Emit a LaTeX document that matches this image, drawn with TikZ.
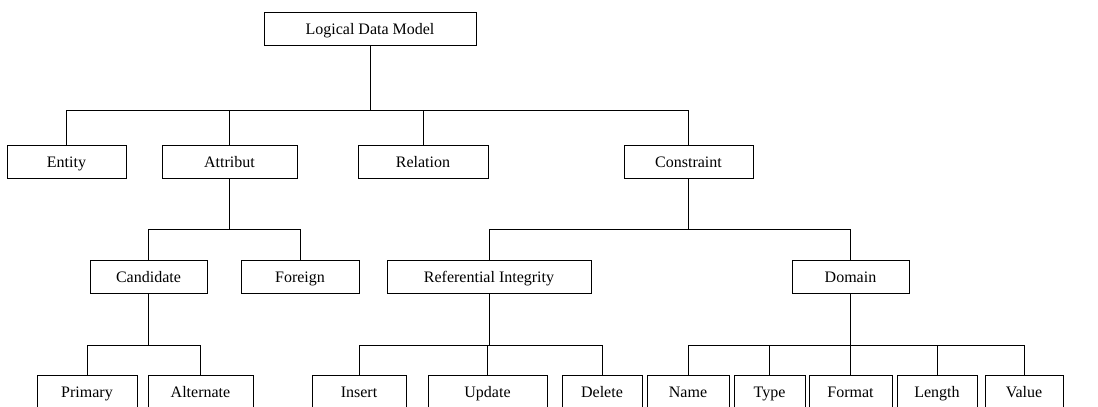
\documentclass[tikz,border=0pt]{standalone}
\usepackage{fontspec}
\setmainfont{Liberation Serif}
\usepackage{tikz}

\begin{document}
\begin{tikzpicture}[x=0.5pt, y=-0.5pt,
    box/.style={draw, rectangle, minimum height=16.5pt, inner sep=0pt,
        text height=1.6ex, text depth=0.4ex,
        font=\fontsize{8}{9}\selectfont},
    link/.style={draw, line width=0.5pt}]
    \useasboundingbox (0,0) rectangle (1098,407);

    % Root node
    \node[box, minimum width=106pt] (ldm) at (370,29) {Logical Data Model};

    % First level
    \node[box, minimum width=59.5pt] (ent) at (66.5,161.5) {Entity};
    \node[box, minimum width=67.5pt] (att) at (229.5,161.5) {Attribut};
    \node[box, minimum width=65pt] (rel) at (423,161.5) {Relation};
    \node[box, minimum width=64.5pt] (con) at (688.5,161.5) {Constraint};

    % Second level
    \node[box, minimum width=58.5pt] (cand) at (148.5,276.5) {Candidate};
    \node[box, minimum width=59pt] (forg) at (300,276.5) {Foreign};
    \node[box, minimum width=102pt] (refi) at (489,276.5) {Referential Integrity};
    \node[box, minimum width=58.5pt] (dom) at (850.5,276.5) {Domain};

    % Third level
    \node[box, minimum width=50pt] (prim) at (87,391.5) {Primary};
    \node[box, minimum width=52.5pt] (alt) at (200.5,391.5) {Alternate};
    \node[box, minimum width=47pt] (ins) at (359,391.5) {Insert};
    \node[box, minimum width=59.5pt] (upd) at (487.5,391.5) {Update};
    \node[box, minimum width=40pt] (del) at (602,391.5) {Delete};
    \node[box, minimum width=41pt] (nam) at (688,391.5) {Name};
    \node[box, minimum width=35.5pt] (typ) at (769.5,391.5) {Type};
    \node[box, minimum width=41.5pt] (fmt) at (850.5,391.5) {Format};
    \node[box, minimum width=40pt] (len) at (937,391.5) {Length};
    \node[box, minimum width=39pt] (val) at (1024,391.5) {Value};

    % Connectors
    \foreach \p/\c in {ldm/ent, ldm/att, ldm/rel, ldm/con}
        \draw[link] (\p.south) -- ++(0,65) -| (\c.north);
    \foreach \p/\c in {att/cand, att/forg, con/refi, con/dom}
        \draw[link] (\p.south) -- ++(0,51) -| (\c.north);
    \foreach \p/\c in {cand/prim, cand/alt, refi/ins, refi/upd, refi/del,
        dom/nam, dom/typ, dom/fmt, dom/len, dom/val}
        \draw[link] (\p.south) -- ++(0,52) -| (\c.north);
\end{tikzpicture}
\end{document}
